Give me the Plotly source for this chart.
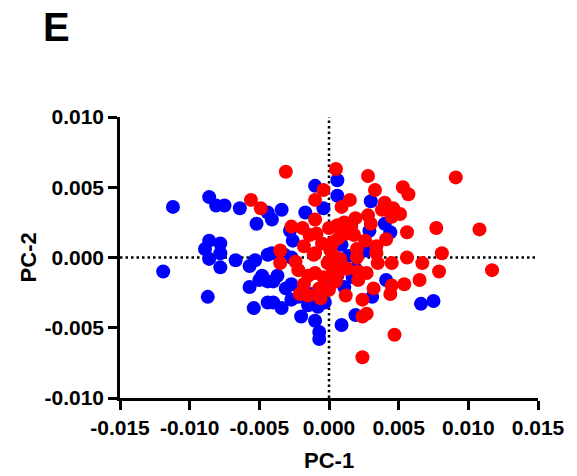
import plotly.graph_objects as go

# PCA scores, group 1 (blue)
blue_pc1 = [-0.0112, -0.0086, -0.0081, -0.0075, -0.0086, -0.0078, -0.0089, -0.0086, -0.0078, -0.0078,
            -0.0119, -0.0087, -0.0067, -0.0057, -0.0053, -0.0050, -0.0057, -0.0054, -0.0044, -0.0044,
            -0.0044, -0.0064, -0.0052, -0.0044, -0.0041, -0.0034, -0.0017, -0.0010, -0.0004, -0.0028,
            -0.0026, 0.0006, 0.0006, -0.0041, -0.0032, 0.0030, 0.0040, 0.0044, 0.0029, 0.0009,
            0.0027, 0.0066, 0.0075, -0.0048, -0.0037, -0.0040, -0.0031, -0.0027, -0.0040, -0.0034,
            -0.0027, -0.0020, -0.0010, -0.0007, -0.0007, -0.0015, -0.0008, -0.0003, 0.0009, -0.0027,
            0.0011, 0.0019, 0.0017, 0.0041, 0.0031, 0.0019, 0.0006, -0.0022, -0.0012, -0.0003,
            0.0014]
blue_pc2 = [0.0036, 0.0043, 0.0037, 0.0037, 0.0012, 0.0010, 0.0006, -0.0001, 0.0003, -0.0007,
            -0.0010, -0.0028, -0.0002, -0.0006, -0.0002, -0.0016, -0.0021, -0.0036, 0.0002, -0.0017,
            -0.0032, 0.0035, 0.0024, 0.0032, 0.0027, 0.0034, 0.0032, 0.0051, 0.0035, 0.0019,
            0.0012, 0.0055, 0.0044, 0.0003, 0.0002, 0.0040, 0.0024, 0.0018, 0.0019, 0.0009,
            0.0005, -0.0033, -0.0031, -0.0013, -0.0013, -0.0017, -0.0022, -0.0019, -0.0032, -0.0036,
            -0.0030, -0.0042, -0.0045, -0.0053, -0.0058, -0.0034, -0.0035, -0.0032, -0.0048, 0.0000,
            -0.0021, -0.0008, -0.0014, -0.0016, -0.0028, -0.0041, -0.0013, -0.0028, -0.0026, -0.0022,
            0.0001]

# PCA scores, group 2 (red)
red_pc1 = [-0.0031, -0.0056, -0.0049, -0.0027, -0.0019, -0.0010, -0.0010, -0.0004, 0.0005, -0.0009,
           -0.0018, -0.0035, 0.0000, 0.0006, 0.0007, -0.0010, 0.0001, 0.0028, 0.0033, 0.0053,
           0.0057, 0.0015, 0.0009, 0.0040, 0.0038, 0.0046, 0.0051, 0.0045, 0.0028, 0.0019,
           0.0011, 0.0056, 0.0041, 0.0034, 0.0026, 0.0018, 0.0013, 0.0020, 0.0056, 0.0091,
           0.0077, 0.0108, 0.0081, 0.0067, 0.0079, 0.0117, 0.0065, -0.0035, -0.0022, -0.0015,
           -0.0010, -0.0018, -0.0021, -0.0015, -0.0006, 0.0000, 0.0005, -0.0001, 0.0005, 0.0009,
           -0.0004, 0.0006, -0.0011, 0.0008, 0.0020, 0.0034, 0.0035, 0.0045, 0.0054, 0.0045,
           0.0044, 0.0032, 0.0027, 0.0021, 0.0021, 0.0012, 0.0024, 0.0027, 0.0024, 0.0047,
           0.0024, -0.0005, 0.0003, -0.0014, 0.0013, -0.0007, 0.0003, 0.0016, -0.0024, 0.0030]
red_pc2 = [0.0061, 0.0041, 0.0035, 0.0022, 0.0021, 0.0027, 0.0041, 0.0048, 0.0063, 0.0017,
           0.0008, 0.0005, 0.0021, 0.0023, 0.0014, 0.0003, 0.0005, 0.0058, 0.0048, 0.0050,
           0.0045, 0.0041, 0.0036, 0.0039, 0.0034, 0.0035, 0.0031, 0.0029, 0.0030, 0.0028,
           0.0025, 0.0018, 0.0013, 0.0008, 0.0012, 0.0016, 0.0017, 0.0006, 0.0000, 0.0057,
           0.0021, 0.0020, 0.0003, -0.0004, -0.0010, -0.0009, -0.0016, -0.0004, -0.0009, -0.0013,
           -0.0011, -0.0019, -0.0026, -0.0027, -0.0029, -0.0023, -0.0017, -0.0004, 0.0000, -0.0005,
           -0.0014, -0.0012, 0.0002, -0.0001, 0.0000, 0.0003, -0.0004, -0.0004, -0.0019, -0.0020,
           -0.0026, -0.0022, -0.0011, -0.0016, -0.0010, -0.0027, -0.0030, -0.0040, -0.0042, -0.0055,
           -0.0071, 0.0010, 0.0011, 0.0016, -0.0008, -0.0022, -0.0009, 0.0022, -0.0003, 0.0024]

tick_vals_x = [-0.015, -0.010, -0.005, 0.000, 0.005, 0.010, 0.015]
tick_text_x = ["-0.015", "-0.010", "-0.005", "0.000", "0.005", "0.010", "0.015"]
tick_vals_y = [-0.010, -0.005, 0.000, 0.005, 0.010]
tick_text_y = ["-0.010", "-0.005", "0.000", "0.005", "0.010"]

FONT = "Liberation Sans, Arial, sans-serif"

fig = go.Figure()
fig.add_trace(go.Scatter(x=blue_pc1, y=blue_pc2, mode="markers",
                         marker=dict(color="#0000FF", size=14, line=dict(width=0)),
                         showlegend=False, cliponaxis=False))
fig.add_trace(go.Scatter(x=red_pc1, y=red_pc2, mode="markers",
                         marker=dict(color="#FF0000", size=14, line=dict(width=0)),
                         showlegend=False, cliponaxis=False))

# dotted reference lines through the origin
fig.add_hline(y=0, line=dict(color="black", width=2.5, dash="2.5px,3px"), layer="below")
fig.add_vline(x=0, line=dict(color="black", width=2.5, dash="2.5px,3px"), layer="below")

axis_common = dict(
    showgrid=False, zeroline=False, showline=True, linecolor="black", linewidth=2.5,
    ticks="outside", ticklen=9, tickwidth=2.5, tickcolor="black",
    tickfont=dict(family=FONT, size=21, color="black", weight="bold"),
)
fig.update_xaxes(range=[-0.015, 0.015], tickvals=tick_vals_x, ticktext=tick_text_x, **axis_common)
fig.update_yaxes(range=[-0.010, 0.010], tickvals=tick_vals_y, ticktext=tick_text_y, **axis_common)

fig.add_annotation(text="PC-1", xref="paper", yref="paper", x=0.5, y=-0.224,
                   xanchor="center", yanchor="middle", showarrow=False,
                   font=dict(family=FONT, size=22, color="black", weight="bold"))
fig.add_annotation(text="PC-2", xref="paper", yref="paper", x=-0.218, y=0.5,
                   xanchor="center", yanchor="middle", textangle=-90, showarrow=False,
                   font=dict(family=FONT, size=22, color="black", weight="bold"))
fig.add_annotation(text="E", xref="paper", yref="paper", x=-0.19, y=1.32,
                   xanchor="left", yanchor="middle", showarrow=False,
                   font=dict(family=FONT, size=40, color="black", weight="bold"))

fig.update_layout(
    width=577, height=476,
    margin=dict(l=120, r=34, t=117, b=78),
    paper_bgcolor="white", plot_bgcolor="white",
)

fig.write_html("out.html")
